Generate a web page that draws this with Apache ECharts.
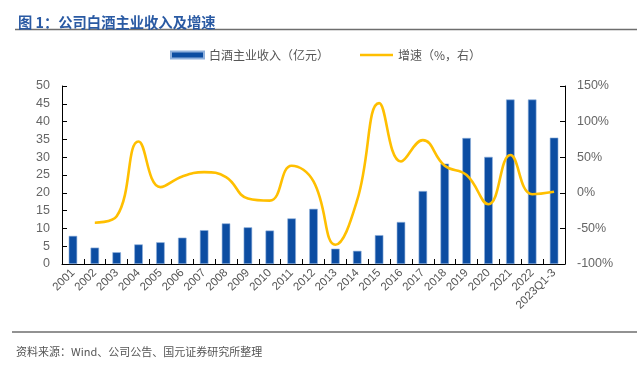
<!DOCTYPE html>
<html><head><meta charset="utf-8">
<script src="https://cdn.jsdelivr.net/npm/echarts@6/dist/echarts.min.js"></script>
<style>html,body{margin:0;padding:0;background:#fff}#c{width:637px;height:366px}</style>
</head><body><div id="c"></div>
<script>
const categories = ['2001','2002','2003','2004','2005','2006','2007','2008','2009','2010','2011','2012','2013','2014','2015','2016','2017','2018','2019','2020','2021','2022','2023Q1-3'];
const revenue = [7.9,4.6,3.3,5.5,6.1,7.4,9.5,11.4,10.3,9.4,12.8,15.5,4.3,3.7,8.1,11.8,20.5,28.2,35.4,30.1,46.2,46.2,35.5];
const growth = [null,-42,-33,72,8,23,29,22,-8,-11,38,16,-73,-10,126,44,74,38,25,-16,53,-2,1.5];
const leftTicks = {min:0,max:50,interval:5};
const rightTicks = {min:-100,max:150,interval:50};

const cjk = '"Noto Sans CJK SC", sans-serif';
const latin = '"Liberation Sans", Arial, sans-serif';
const chart = echarts.init(document.getElementById('c'));
chart.setOption({
  animation:false,
  backgroundColor:'#fff',
  title:{text:'图 1：公司白酒主业收入及增速', left:13, top:10,
    textStyle:{fontSize:14.3, fontWeight:'bold', color:'#2a5aa3', fontFamily:cjk}},
  graphic:[
    {type:'line', shape:{x1:15,y1:29.5,x2:637,y2:29.5}, style:{stroke:'#6e6e6e', lineWidth:1.5}},
    {type:'line', shape:{x1:12,y1:332,x2:637,y2:332}, style:{stroke:'#6e6e6e', lineWidth:1.5}},
    {type:'text', left:16, top:346, style:{text:'资料来源：Wind、公司公告、国元证券研究所整理', fontSize:11, fill:'#555', fontFamily:cjk}}
  ],
  legend:{top:49, left:170, padding:0, itemGap:31, itemWidth:33, itemHeight:7, itemTextGap:4,
    textStyle:{fontSize:12, color:'#555', fontFamily:cjk},
    data:[{name:'白酒主业收入（亿元）', icon:'rect'},
          {name:'增速（%，右）', icon:'path://M0,0L33,0L33,2.6L0,2.6Z'}]},
  grid:{left:62, right:72, top:86, bottom:102},
  xAxis:{type:'category', data:categories,
    axisLine:{lineStyle:{color:'#000', width:1}},
    axisTick:{show:true, inside:true, length:5, lineStyle:{color:'#000'}},
    axisLabel:{rotate:45, fontSize:11.5, color:'#555', fontFamily:latin, margin:7, interval:0}},
  yAxis:[
    {type:'value', ...leftTicks, splitLine:{show:false},
      axisLine:{show:true, lineStyle:{color:'#000'}},
      axisTick:{show:true, inside:true, length:5, lineStyle:{color:'#000'}},
      axisLabel:{fontSize:12.5, color:'#666', fontFamily:latin, margin:12}},
    {type:'value', ...rightTicks, splitLine:{show:false},
      axisLine:{show:true, lineStyle:{color:'#000'}},
      axisTick:{show:true, inside:true, length:5, lineStyle:{color:'#000'}},
      axisLabel:{fontSize:12.5, color:'#666', fontFamily:latin, margin:12, formatter:'{value}%'}}
  ],
  series:[
    {name:'白酒主业收入（亿元）', type:'bar', data:revenue, barWidth:8.5,
      itemStyle:{color:'#0c4da2', borderColor:'#8fb0dc', borderWidth:0.6}},
    {name:'增速（%，右）', type:'line', yAxisIndex:1, data:growth, smooth:0.45,
      symbol:'none', connectNulls:false, lineStyle:{color:'#ffbf00', width:2.6}, itemStyle:{color:'#ffbf00'}}
  ]
});
</script></body></html>
